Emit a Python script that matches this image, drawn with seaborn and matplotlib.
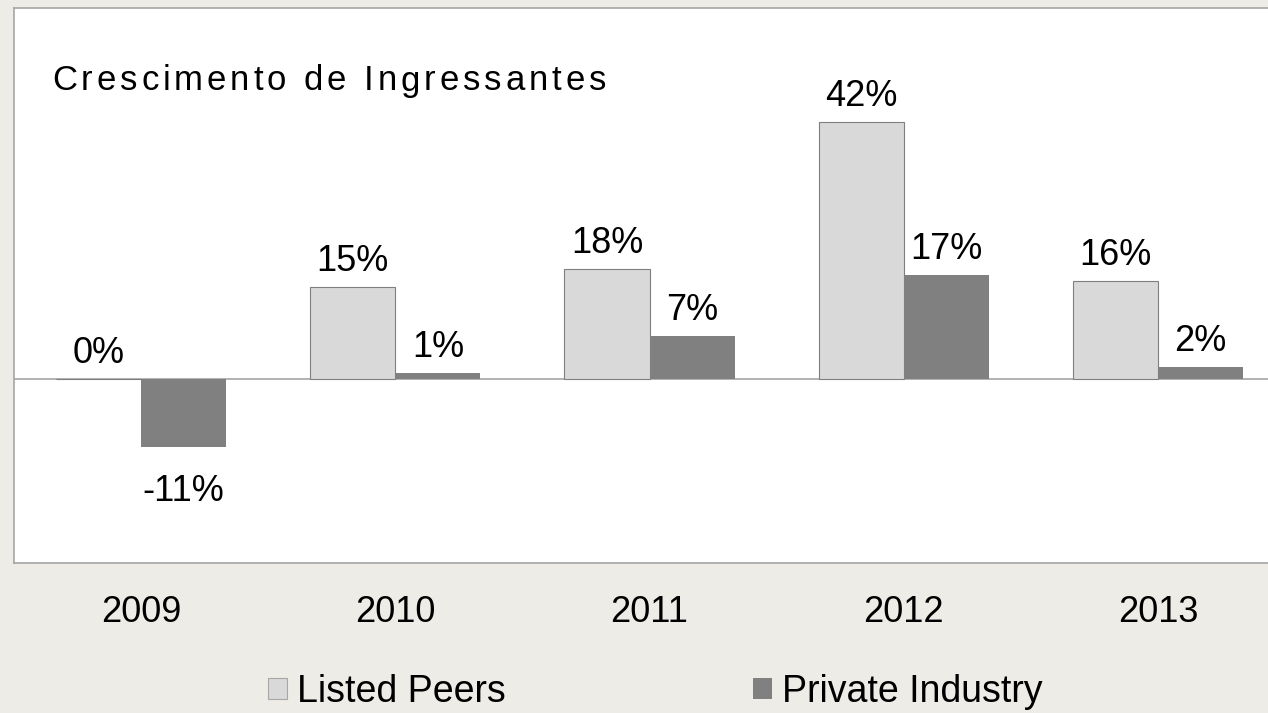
import pandas as pd
import seaborn as sns
import matplotlib.pyplot as plt
from matplotlib.patches import Patch

# dados do grafico
anos = ["2009", "2010", "2011", "2012", "2013"]
listed_peers = [0, 15, 18, 42, 16]
private_industry = [-11, 1, 7, 17, 2]
series = ["Listed Peers", "Private Industry"]
cores = ["#d9d9d9", "#808080"]
titulo = "Crescimento de Ingressantes"

df = pd.DataFrame({
    "Ano": anos * 2,
    "Valor": listed_peers + private_industry,
    "Serie": [series[0]] * len(anos) + [series[1]] * len(anos),
})

sns.set_style("white")
plt.rcParams["font.family"] = ["Liberation Sans", "DejaVu Sans"]
plt.rcParams["text.color"] = "black"
plt.rcParams["xtick.color"] = "black"

W, H = 1268, 713
fig = plt.figure(figsize=(W / 100, H / 100), dpi=100)
fig.patch.set_facecolor("#edece6")
ax = fig.add_axes([14 / W, 1 - 563 / H, 1271 / W, 555 / H])
ax.set_facecolor("white")

sns.barplot(data=df, x="Ano", y="Valor", hue="Serie", palette=cores,
            width=0.67, ax=ax, legend=False, saturation=1)

# borda das barras claras + rotulos
for i, cont in enumerate(ax.containers):
    vals = cont.datavalues
    for b in cont:
        if i == 0:
            b.set_edgecolor("#7f7f7f")
            b.set_linewidth(0.8)
        else:
            b.set_edgecolor("none")
    pos = ["%d%%" % v if v >= 0 else "" for v in vals]
    neg = ["%d%%" % v if v < 0 else "" for v in vals]
    ax.bar_label(cont, labels=pos, padding=6, fontsize=26, color="black")
    ax.bar_label(cont, labels=neg, padding=20, fontsize=26, color="black")

ax.axhline(0, color="#a6a6a6", lw=1.2, zorder=0)
ax.set_ylim(-30, 60.6)
ax.set_xlim(-0.5, 4.5)
ax.set_yticks([])
ax.set_xlabel("")
ax.set_ylabel("")
ax.tick_params(axis="x", length=0, pad=23, labelsize=26, labelcolor="black")
for s in ax.spines.values():
    s.set_color("#a6a6a6")
    s.set_linewidth(1.2)

# titulo com espacamento entre letras
tam_titulo = 25
renderer = fig.canvas.get_renderer()
def largura(s):
    t = fig.text(0, 0, s, fontsize=tam_titulo)
    w = t.get_window_extent(renderer).width
    t.remove()
    return w

extra = (554 - largura(titulo)) / (len(titulo) - 1)
wx = largura("x")
for i, ch in enumerate(titulo):
    if ch == " ":
        continue
    x0 = 52 + (largura(titulo[:i] + "x") - wx if i > 0 else 0) + i * extra
    fig.text(x0 / W, 1 - 81 / H, ch, fontsize=tam_titulo, va="center", ha="left")

# legenda
handles = [Patch(facecolor=cores[0], edgecolor="#a6a6a6", lw=0.8),
           Patch(facecolor=cores[1], edgecolor="none")]
fig.legend(handles, series, loc="center", bbox_to_anchor=(655 / W, 1 - 692 / H),
           ncol=2, frameon=False, handlelength=0.5, handleheight=0.5,
           handletextpad=0.27, columnspacing=6.6,
           prop={"family": ["Liberation Sans"], "size": 27})

fig.savefig("out.png", dpi=100, facecolor=fig.get_facecolor())
